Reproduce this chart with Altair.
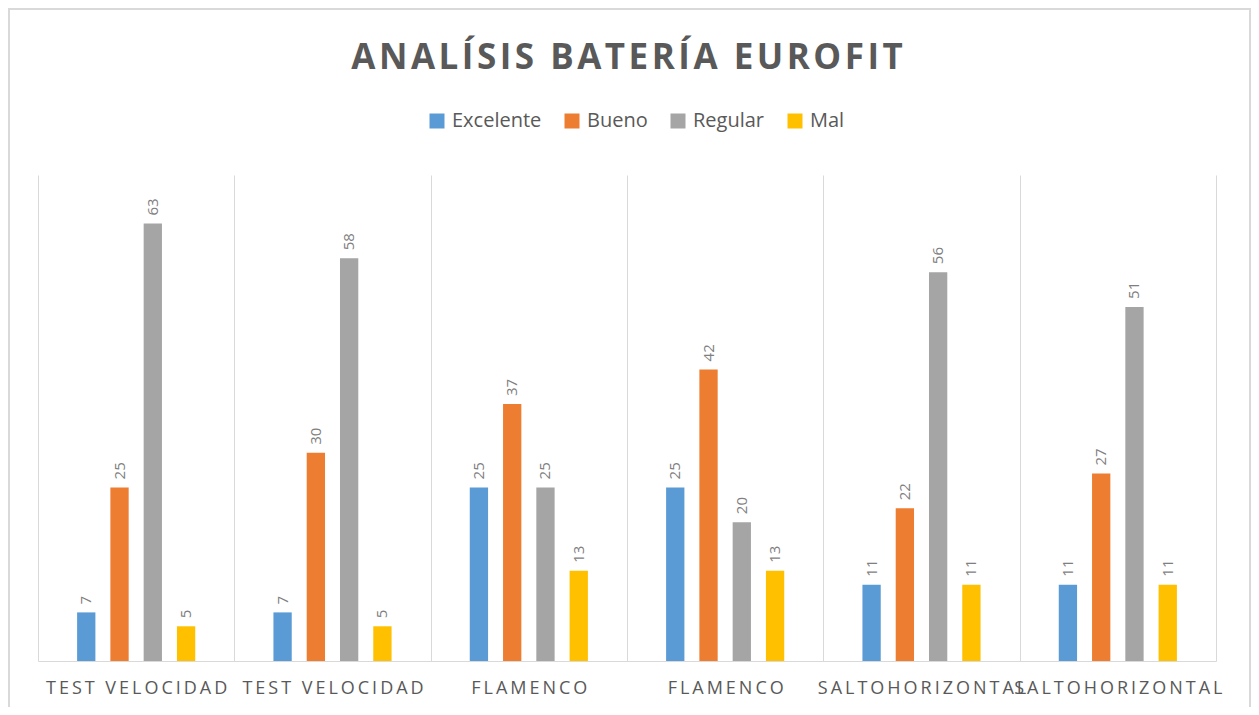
import altair as alt
import pandas as pd

categories = ["TEST VELOCIDAD", "TEST VELOCIDAD", "FLAMENCO", "FLAMENCO",
              "SALTOHORIZONTAL", "SALTOHORIZONTAL"]
series = ["Excelente", "Bueno", "Regular", "Mal"]
excelente = [7, 7, 25, 25, 11, 11]
bueno = [25, 30, 37, 42, 22, 27]
regular = [63, 58, 25, 20, 56, 51]
mal = [5, 5, 13, 13, 11, 11]
colors = ["#5B9BD5", "#ED7D31", "#A5A5A5", "#FFC000"]

SP = "\u2009"
HS = "\u200a"


def spaced(s, sep=SP):
    return sep.join(list(s))


rows = []
for i, cat in enumerate(categories):
    for s, vals in zip(series, [excelente, bueno, regular, mal]):
        rows.append({"key": f"{i}|{spaced(cat)}", "serie": s, "valor": vals[i]})
df = pd.DataFrame(rows)
keys = [f"{i}|{spaced(c)}" for i, c in enumerate(categories)]

base = alt.Chart(df).encode(
    x=alt.X("key:N", sort=keys, title=None,
            scale=alt.Scale(paddingInner=0, paddingOuter=0),
            axis=alt.Axis(labelExpr="split(datum.label, '|')[1]", labelAngle=0,
                          labelOverlap=False, labelLimit=0, labelFont="Open Sans",
                          labelFontSize=18, labelColor="#595959", labelPadding=18,
                          ticks=False, tickBand="extent", grid=True, gridColor="#D9D9D9",
                          domainColor="#D9D9D9")),
    xOffset=alt.XOffset("serie:N",
                        scale=alt.Scale(domain=["_a"] + series + ["_b"],
                                        paddingInner=0.45, paddingOuter=0.175)),
    y=alt.Y("valor:Q", scale=alt.Scale(domain=[0, 70]), axis=None),
)

bars = base.mark_bar().encode(
    color=alt.Color("serie:N", sort=series,
                    scale=alt.Scale(domain=series, range=colors),
                    legend=alt.Legend(title=None, orient="none", direction="horizontal",
                                      legendX=389, legendY=-64,
                                      symbolType="square", symbolSize=225,
                                      symbolStrokeWidth=0, labelFont="Open Sans",
                                      labelFontSize=20, labelColor="#595959",
                                      labelOffset=5, columnPadding=20)),
)

labels = base.mark_text(angle=270, align="left", baseline="middle", dx=8,
                        font="Open Sans", fontSize=15, color="#7F7F7F").encode(
    text="valor:Q"
)

frame = alt.Chart(pd.DataFrame({"f": [0]})).mark_rect(
    fill="transparent", stroke="#D9D9D9", strokeWidth=2
).encode(x=alt.value(-29), x2=alt.value(1212), y=alt.value(-166), y2=alt.value(560))

chart = (frame + bars + labels).properties(
    width=1178, height=486,
    autosize=alt.AutoSizeParams(type="none"),
    padding={"left": 30, "top": 167, "right": 35, "bottom": 46},
    title=alt.TitleParams(spaced("ANALÍSIS BATERÍA EUROFIT", HS), font="Open Sans",
                          fontSize=35, fontWeight="bold", color="#595959",
                          anchor="middle", offset=0, dy=68),
).configure(background="white").configure_view(strokeWidth=0)

chart.save("out.html", embed_options={"renderer": "svg", "actions": False})
